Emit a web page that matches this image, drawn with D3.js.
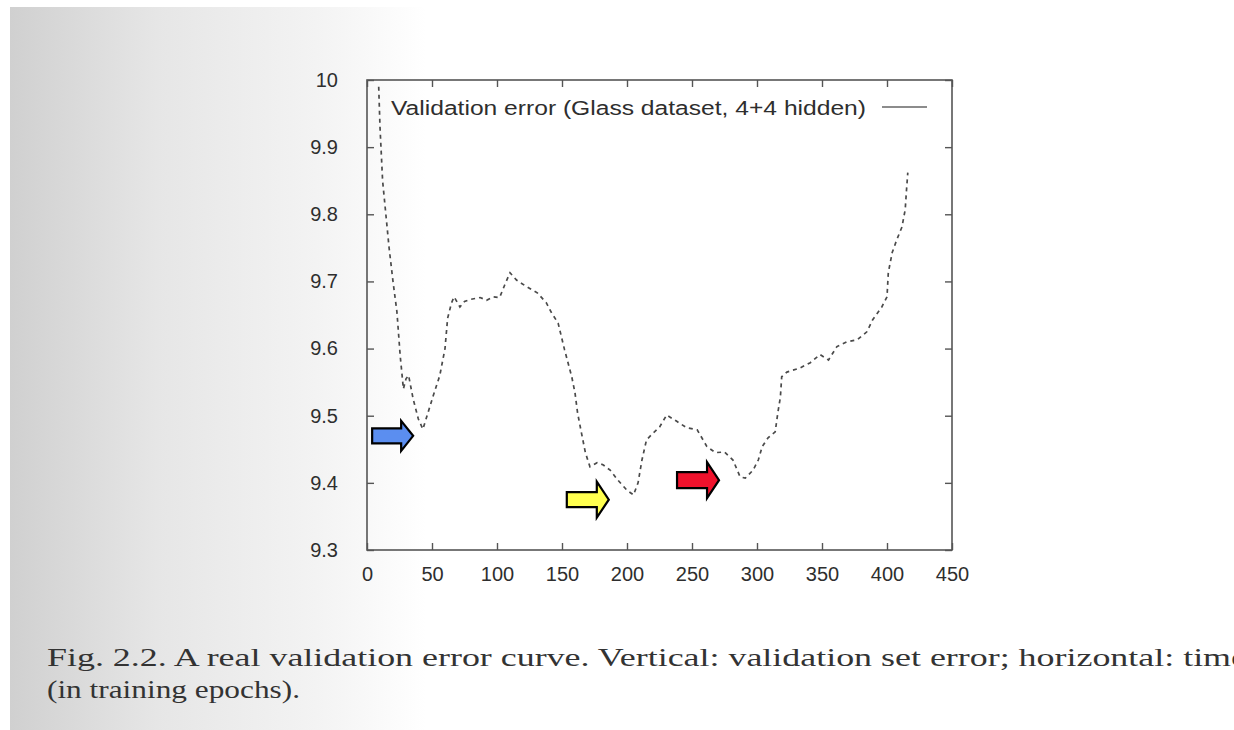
<!DOCTYPE html>
<html>
<head>
<meta charset="utf-8">
<script src="https://cdn.jsdelivr.net/npm/d3@7"></script>
<style>
  html, body { margin: 0; padding: 0; background: #fff; }
  svg { display: block; }
</style>
</head>
<body>
<div id="chart"></div>
<script>
const svgWidth = 1234;
const svgHeight = 730;

// validation error curve
const epochs = [
  9, 10, 12, 14.5, 17, 20, 23, 25.5, 28, 30, 32, 35.5, 39.5, 43, 47, 51, 56, 60, 62, 65,
  67, 71.5, 75, 79, 87, 92, 97, 102, 106, 110, 115, 123, 131, 138, 142, 147, 152, 157.5, 160, 162,
  165, 168, 171.5, 177, 181.5, 187, 193, 200, 205, 208.5, 211.5, 215, 220, 225, 230.5, 238, 246, 254, 261.5, 268,
  275, 281.5, 287, 291, 297, 301, 304, 308.5, 314, 316, 318, 319, 323, 333, 341, 348.5, 355, 361.5, 369, 377,
  384.5, 389, 396, 400, 401, 404, 407.5, 411.5, 414, 415, 416,
];
const errors = [
  9.99, 9.93, 9.85, 9.8, 9.75, 9.7, 9.655, 9.59, 9.54, 9.555, 9.56, 9.525, 9.495, 9.48, 9.505, 9.53, 9.56, 9.6, 9.645, 9.668,
  9.677, 9.662, 9.67, 9.673, 9.676, 9.672, 9.677, 9.676, 9.695, 9.713, 9.702, 9.692, 9.683, 9.668, 9.653, 9.638, 9.598, 9.558, 9.534, 9.504,
  9.474, 9.445, 9.424, 9.43, 9.427, 9.419, 9.404, 9.389, 9.382, 9.4, 9.434, 9.464, 9.474, 9.483, 9.501, 9.492, 9.482, 9.479, 9.454, 9.445,
  9.446, 9.434, 9.409, 9.407, 9.419, 9.434, 9.454, 9.467, 9.476, 9.504, 9.528, 9.558, 9.565, 9.571, 9.579, 9.591, 9.583, 9.603, 9.61, 9.613,
  9.625, 9.643, 9.662, 9.677, 9.713, 9.743, 9.762, 9.781, 9.807, 9.836, 9.862,
];

const xTicks = [0, 50, 100, 150, 200, 250, 300, 350, 400, 450];
const yTicks = [9.3, 9.4, 9.5, 9.6, 9.7, 9.8, 9.9, 10];

// arrows marking the local minima (tip position in data units)
const arrowEpochs = [35.5, 186, 270.8];
const arrowErrors = [9.47, 9.375, 9.404];
const arrowColors = ['#5b8ef0', '#ffff4f', '#f0122c'];

const legendLabel = 'Validation error (Glass dataset, 4+4 hidden)';
const captionLines = [
  'Fig. 2.2. A real validation error curve. Vertical: validation set error; horizontal: time',
  '(in training epochs).',
];

const svg = d3.select('#chart').append('svg').attr('width', svgWidth).attr('height', svgHeight);

// scanned page shading
const defs = svg.append('defs');
const grad = defs.append('linearGradient').attr('id', 'page').attr('x1', 0).attr('x2', 1).attr('y1', 0).attr('y2', 0);
grad.append('stop').attr('offset', '0%').attr('stop-color', '#d0d0d0');
grad.append('stop').attr('offset', '12%').attr('stop-color', '#e6e6e6');
grad.append('stop').attr('offset', '25%').attr('stop-color', '#f3f3f3');
grad.append('stop').attr('offset', '34%').attr('stop-color', '#ffffff');
grad.append('stop').attr('offset', '100%').attr('stop-color', '#ffffff');

svg.append('rect').attr('width', svgWidth).attr('height', svgHeight).attr('fill', '#fff');
svg.append('rect').attr('x', 10).attr('y', 7).attr('width', svgWidth - 10).attr('height', svgHeight - 7).attr('fill', 'url(#page)');

const plotLeft = 367;
const plotRight = 952;
const plotTop = 80;
const plotBottom = 550;

const x = d3.scaleLinear().domain([0, 450]).range([plotLeft, plotRight]);
const y = d3.scaleLinear().domain([9.3, 10]).range([plotBottom, plotTop]);

const tickFont = '"Liberation Sans", Arial, sans-serif';
const ink = '#2e2e2e';

// frame
svg
  .append('rect')
  .attr('x', plotLeft)
  .attr('y', plotTop)
  .attr('width', plotRight - plotLeft)
  .attr('height', plotBottom - plotTop)
  .attr('fill', 'none')
  .attr('stroke', '#555')
  .attr('stroke-width', 1.6);

// gnuplot style inward ticks on all sides
const axisB = svg
  .append('g')
  .attr('transform', `translate(0, ${plotBottom})`)
  .call(d3.axisBottom(x).tickValues(xTicks).tickSize(-7).tickPadding(17));
const axisT = svg
  .append('g')
  .attr('transform', `translate(0, ${plotTop})`)
  .call(d3.axisTop(x).tickValues(xTicks).tickSize(-7).tickFormat(''));
const axisL = svg
  .append('g')
  .attr('transform', `translate(${plotLeft}, 0)`)
  .call(d3.axisLeft(y).tickValues(yTicks).tickSize(-7).tickPadding(29).tickFormat((d) => (d === 10 ? '10' : d.toFixed(1))));
const axisR = svg
  .append('g')
  .attr('transform', `translate(${plotRight}, 0)`)
  .call(d3.axisRight(y).tickValues(yTicks).tickSize(-7).tickFormat(''));

[axisB, axisT, axisL, axisR].forEach((g) => {
  g.select('.domain').remove();
  g.selectAll('line').attr('stroke', '#555').attr('stroke-width', 1.4);
  g.selectAll('text').attr('fill', ink).style('font-family', tickFont).style('font-size', '20px');
});

// legend
svg
  .append('text')
  .attr('x', 391)
  .attr('y', 115)
  .attr('fill', ink)
  .attr('textLength', 475)
  .attr('lengthAdjust', 'spacingAndGlyphs')
  .style('font-family', tickFont)
  .style('font-size', '20px')
  .text(legendLabel);

svg
  .append('line')
  .attr('x1', 882)
  .attr('x2', 927)
  .attr('y1', 107)
  .attr('y2', 107)
  .attr('stroke', '#666')
  .attr('stroke-width', 1.5);

// curve
const curveData = epochs.map((e, i) => ({ epoch: e, err: errors[i] }));
const line = d3
  .line()
  .x((d) => x(d.epoch))
  .y((d) => y(d.err));

svg
  .append('path')
  .datum(curveData)
  .attr('fill', 'none')
  .attr('stroke', '#4a4a4a')
  .attr('stroke-width', 1.7)
  .attr('stroke-dasharray', '4,4')
  .attr('d', line);

// arrows
const arrowPath = (tx, ty, len, bodyH, headH, headL) =>
  [
    [tx - len, ty - bodyH / 2],
    [tx - headL, ty - bodyH / 2],
    [tx - headL, ty - headH / 2],
    [tx, ty],
    [tx - headL, ty + headH / 2],
    [tx - headL, ty + bodyH / 2],
    [tx - len, ty + bodyH / 2],
  ]
    .map((p) => p.join(','))
    .join(' ');

const arrowSizes = [
  { len: 41, bodyH: 15, headH: 30, headL: 12 },
  { len: 42, bodyH: 15, headH: 36, headL: 12 },
  { len: 42, bodyH: 16, headH: 36, headL: 12 },
];

svg
  .append('g')
  .selectAll('polygon')
  .data(arrowEpochs)
  .join('polygon')
  .attr('points', (d, i) => {
    const s = arrowSizes[i];
    return arrowPath(x(d), y(arrowErrors[i]), s.len, s.bodyH, s.headH, s.headL);
  })
  .attr('fill', (d, i) => arrowColors[i])
  .attr('stroke', '#000')
  .attr('stroke-width', 2.2)
  .attr('stroke-linejoin', 'miter');

// caption
const captionLengths = [1200, 253];
svg
  .append('g')
  .selectAll('text')
  .data(captionLines)
  .join('text')
  .attr('x', 47)
  .attr('y', (d, i) => 666 + i * 32)
  .attr('textLength', (d, i) => captionLengths[i])
  .attr('lengthAdjust', 'spacingAndGlyphs')
  .attr('fill', '#333')
  .style('font-family', '"Liberation Serif", "DejaVu Serif", serif')
  .style('font-size', '25px')
  .text((d) => d);
</script>
</body>
</html>
